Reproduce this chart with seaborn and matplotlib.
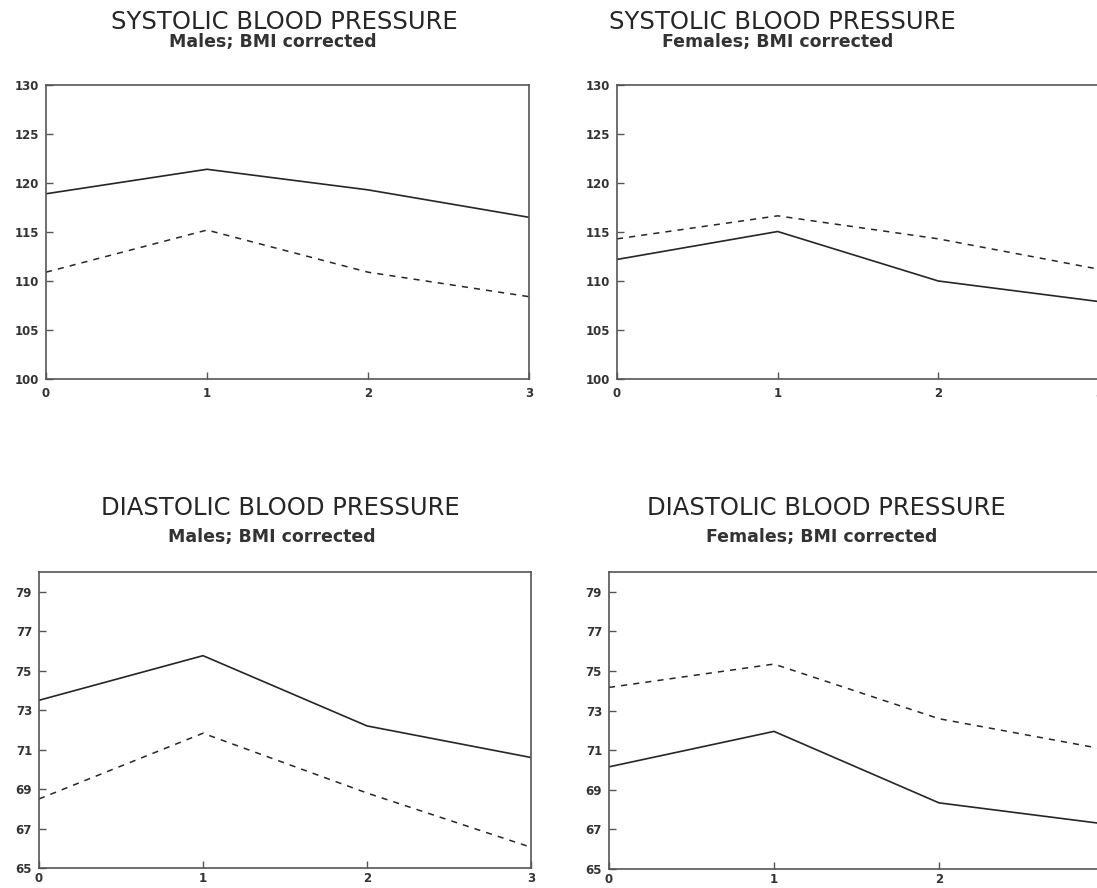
import matplotlib
matplotlib.use("Agg")
import matplotlib.pyplot as plt
import seaborn as sns
import pandas as pd

sns.set_theme(style="white")
plt.rcParams['font.family'] = ['DejaVu Sans']

# ---- data ----
x_vals = [0, 1, 2, 3]

sys_male_solid = [118.9, 121.4, 119.3, 116.5]
sys_male_dashed = [110.9, 115.2, 110.9, 108.4]
sys_female_solid = [112.2, 115.05, 110.0, 107.9]
sys_female_dashed = [114.3, 116.65, 114.3, 111.2]

dia_male_solid = [73.5, 75.76, 72.2, 70.6]
dia_male_dashed = [68.5, 71.83, 68.8, 66.05]
dia_female_solid = [70.16, 71.95, 68.34, 67.28]
dia_female_dashed = [74.17, 75.35, 72.59, 71.05]

sys_ticks = [100, 105, 110, 115, 120, 125, 130]
dia_ticks = [65, 67, 69, 71, 73, 75, 77, 79]
x_ticks = [0, 1, 2, 3]

titles = ["SYSTOLIC BLOOD PRESSURE", "SYSTOLIC BLOOD PRESSURE",
          "DIASTOLIC BLOOD PRESSURE", "DIASTOLIC BLOOD PRESSURE"]
subtitles = ["Males; BMI corrected", "Females; BMI corrected",
             "Males; BMI corrected", "Females; BMI corrected"]

W, H = 1097, 888
fig = plt.figure(figsize=(W / 100, H / 100), dpi=100)


def px_axes(left, top, right, bottom):
    return fig.add_axes([left / W, 1 - bottom / H, (right - left) / W, (bottom - top) / H])


panels = [
    dict(box=(46, 85, 529, 379), solid=sys_male_solid, dashed=sys_male_dashed,
         ylim=(100, 130), yticks=sys_ticks, tpos=(284, 29, 273, 47), xpad=6),
    dict(box=(617, 85, 1099, 379), solid=sys_female_solid, dashed=sys_female_dashed,
         ylim=(100, 130), yticks=sys_ticks, tpos=(782, 29, 778, 47), xpad=6),
    dict(box=(39, 572, 531, 868), solid=dia_male_solid, dashed=dia_male_dashed,
         ylim=(65, 80), yticks=dia_ticks, tpos=(280, 515, 272, 542), xpad=3),
    dict(box=(609, 572, 1104, 869), solid=dia_female_solid, dashed=dia_female_dashed,
         ylim=(65, 80), yticks=dia_ticks, tpos=(826, 515, 822, 542), xpad=3),
]

line_col = "#262626"
spine_col = "#555555"

for i, p in enumerate(panels):
    ax = px_axes(*p['box'])
    df = pd.DataFrame({'x': x_vals + x_vals,
                       'y': p['solid'] + p['dashed'],
                       'grp': ['solid'] * 4 + ['dashed'] * 4})
    sns.lineplot(data=df[df.grp == 'solid'], x='x', y='y', ax=ax,
                 color=line_col, lw=1.2, linestyle='-')
    sns.lineplot(data=df[df.grp == 'dashed'], x='x', y='y', ax=ax,
                 color=line_col, lw=1.1, linestyle=(0, (4, 4)))
    ax.set_xlim(0, 3)
    ax.set_ylim(*p['ylim'])
    ax.set_xticks(x_ticks)
    ax.set_yticks(p['yticks'])
    ax.set_xlabel('')
    ax.set_ylabel('')
    ax.tick_params(axis='y', direction='in', length=5, width=1, color=spine_col,
                   labelsize=8.5, pad=5, left=True)
    ax.tick_params(axis='x', direction='in', length=5, width=1, color=spine_col,
                   labelsize=8.5, pad=p['xpad'], bottom=True)
    for lab in ax.get_xticklabels() + ax.get_yticklabels():
        lab.set_fontweight('bold')
        lab.set_color('#333333')
    for s in ax.spines.values():
        s.set_visible(True)
        s.set_color(spine_col)
        s.set_linewidth(1.2)
    cx, ty, scx, sy = p['tpos']
    fig.text(cx / W, 1 - ty / H, titles[i], ha='center', va='baseline',
             fontsize=17.5, color='#262626')
    fig.text(scx / W, 1 - sy / H, subtitles[i], ha='center', va='baseline',
             fontsize=12.5, fontweight='bold', color='#333333')

fig.savefig("out.png", dpi=100, facecolor='white')
